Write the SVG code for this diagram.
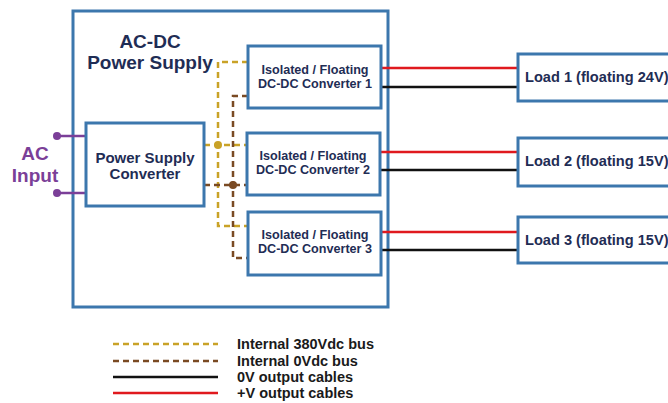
<svg xmlns="http://www.w3.org/2000/svg" width="668" height="403" viewBox="0 0 668 403">
<style>
.box{fill:#fff;stroke:#3c77ad;stroke-width:3}
.t{font-family:"Liberation Sans",Arial,sans-serif;font-weight:bold;fill:#1f2d55;text-anchor:middle}
.cv{font-size:12.6px}
.ld{font-size:14.6px;text-anchor:start}
.ac{font-family:"Liberation Sans",Arial,sans-serif;font-weight:bold;fill:#7b3f98;font-size:19px;text-anchor:middle}
.y{fill:none;stroke:#c9a227;stroke-width:2.5;stroke-dasharray:6 4}
.b{fill:none;stroke:#7a4a23;stroke-width:2.5;stroke-dasharray:6 4}
.red{stroke:#e0191e;stroke-width:2.5}
.blk{stroke:#111;stroke-width:2.5}
.pl{stroke:#7b3f98;stroke-width:2.5}
.lg{font-family:"Liberation Sans",Arial,sans-serif;font-weight:bold;fill:#1a1a1a;font-size:14.5px}
</style>
<rect width="668" height="403" fill="#fff"/>
<g id="supply">
<rect class="box" x="73" y="11" width="315" height="296"/>
<text class="t" x="150" y="48" font-size="19">AC-DC</text>
<text class="t" x="150" y="69" font-size="19">Power Supply</text>
</g>
<g id="connectors">
<line class="pl" x1="57" y1="136" x2="86" y2="136"/>
<line class="pl" x1="57" y1="193" x2="86" y2="193"/>
<circle cx="57" cy="136" r="4" fill="#7b3f98"/>
<circle cx="57" cy="193" r="4" fill="#7b3f98"/>
<path class="y" d="M248 62 H218 V226 H248"/>
<path class="y" d="M204 145 H247"/>
<path class="b" d="M248 96 H233 V258 H248"/>
<path class="b" d="M204 185 H247"/>
<circle cx="218" cy="145" r="4" fill="#c9a227"/>
<circle cx="233" cy="185" r="4" fill="#7a4a23"/>
<line class="red" x1="381" y1="68" x2="518" y2="68"/>
<line class="blk" x1="381" y1="87" x2="518" y2="87"/>
<line class="red" x1="380" y1="152" x2="518" y2="152"/>
<line class="blk" x1="380" y1="170" x2="518" y2="170"/>
<line class="red" x1="381" y1="232" x2="518" y2="232"/>
<line class="blk" x1="381" y1="250" x2="518" y2="250"/>
</g>
<g id="ac-input">
<text class="ac" x="35" y="160">AC</text>
<text class="ac" x="35" y="182">Input</text>
</g>
<g id="psc">
<rect class="box" x="86" y="123" width="118" height="83"/>
<text class="t" x="145" y="163" font-size="15">Power Supply</text>
<text class="t" x="145" y="179" font-size="15">Converter</text>
</g>
<g id="conv1">
<rect class="box" x="248" y="46" width="133" height="62"/>
<text class="t cv" x="315" y="74">Isolated / Floating</text>
<text class="t cv" x="315" y="88">DC-DC Converter 1</text>
</g>
<g id="conv2">
<rect class="box" x="247" y="133" width="133" height="62"/>
<text class="t cv" x="313" y="160">Isolated / Floating</text>
<text class="t cv" x="313" y="174">DC-DC Converter 2</text>
</g>
<g id="conv3">
<rect class="box" x="248" y="212" width="133" height="63"/>
<text class="t cv" x="315" y="239">Isolated / Floating</text>
<text class="t cv" x="315" y="253">DC-DC Converter 3</text>
</g>
<g id="load1">
<rect class="box" x="518" y="54" width="160" height="47"/>
<text class="t ld" x="525" y="82">Load 1 (floating 24V)</text>
</g>
<g id="load2">
<rect class="box" x="518" y="138" width="160" height="48"/>
<text class="t ld" x="525" y="166">Load 2 (floating 15V)</text>
</g>
<g id="load3">
<rect class="box" x="518" y="217" width="160" height="46"/>
<text class="t ld" x="525" y="245">Load 3 (floating 15V)</text>
</g>
<g id="legend">
<line class="y" x1="113" y1="344" x2="218" y2="344" stroke-dasharray="8 3.5"/>
<line class="b" x1="113" y1="361" x2="218" y2="361" stroke-dasharray="8 3.5"/>
<line class="blk" x1="113" y1="377" x2="218" y2="377"/>
<line class="red" x1="113" y1="393" x2="218" y2="393"/>
<text class="lg" x="237" y="349">Internal 380Vdc bus</text>
<text class="lg" x="237" y="366">Internal 0Vdc bus</text>
<text class="lg" x="237" y="382">0V output cables</text>
<text class="lg" x="237" y="398">+V output cables</text>
</g>
</svg>
